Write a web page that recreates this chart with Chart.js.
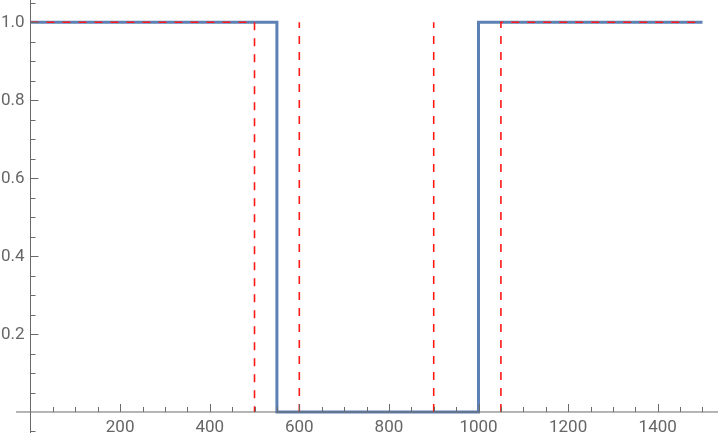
<!DOCTYPE html>
<html>
<head>
<meta charset="utf-8">
<script src="https://cdn.jsdelivr.net/npm/chart.js@4"></script>
<style>
  html, body { margin: 0; padding: 0; background: #ffffff; }
  #wrap { width: 720px; height: 442px; }
</style>
</head>
<body>
<div id="wrap"><canvas id="c" width="720" height="442"></canvas></div>
<script>
// ---- data ----
const stepX = [0, 550, 550, 1000, 1000, 1500];
const stepY = [1, 1, 0, 0, 1, 1];
// dashed reference outline (null = gap)
const refX = [0, 500, 500, 500, 600, 600, 600, 900, 900, 900, 1050, 1050, 1500];
const refY = [1, 1, 0, null, 0, 1, null, 0, 1, null, 0, 1, 1];
// ticks
const xMajorTicks = [200, 400, 600, 800, 1000, 1200, 1400];
const xMajorLabels = ["200", "400", "600", "800", "1000", "1200", "1400"];
const xMinorTicks = [50, 100, 150, 250, 300, 350, 450, 500, 550, 650, 700, 750, 850, 900, 950, 1050, 1100, 1150, 1250, 1300, 1350, 1450, 1500];
const yMajorTicks = [0.2, 0.4, 0.6, 0.8, 1.0];
const yMajorLabels = ["0.2", "0.4", "0.6", "0.8", "1.0"];
const yMinorTicks = [-0.05, 0.05, 0.1, 0.15, 0.25, 0.3, 0.35, 0.45, 0.5, 0.55, 0.65, 0.7, 0.75, 0.85, 0.9, 0.95, 1.05];

const axisColor = '#6a6a6a';
const labelColor = '#666666';

const axesPlugin = {
  id: 'mmaAxes',
  afterDatasetsDraw(chart) {
    const ctx = chart.ctx;
    const xs = chart.scales.x, ys = chart.scales.y;
    const area = chart.chartArea;
    const x0 = xs.getPixelForValue(0);
    const y0 = ys.getPixelForValue(0);
    ctx.save();
    ctx.strokeStyle = axisColor;
    ctx.lineWidth = 1;
    ctx.beginPath();
    ctx.moveTo(area.left, y0);
    ctx.lineTo(area.right, y0);
    ctx.moveTo(x0, area.top);
    ctx.lineTo(x0, area.bottom);
    xMajorTicks.forEach(v => { const p = Math.round(xs.getPixelForValue(v)) + 0.5; ctx.moveTo(p, y0); ctx.lineTo(p, y0 - 8); });
    xMinorTicks.forEach(v => { const p = Math.round(xs.getPixelForValue(v)) + 0.5; ctx.moveTo(p, y0); ctx.lineTo(p, y0 - 5); });
    yMajorTicks.forEach(v => { const p = Math.round(ys.getPixelForValue(v)) + 0.5; ctx.moveTo(x0, p); ctx.lineTo(x0 + 8, p); });
    yMinorTicks.forEach(v => { const p = Math.round(ys.getPixelForValue(v)) + 0.5; ctx.moveTo(x0, p); ctx.lineTo(x0 + 5, p); });
    ctx.stroke();
    ctx.fillStyle = labelColor;
    ctx.font = '17px Roboto';
    ctx.textAlign = 'center';
    ctx.textBaseline = 'middle';
    xMajorTicks.forEach((v, i) => ctx.fillText(xMajorLabels[i], xs.getPixelForValue(v), y0 + 16));
    ctx.textAlign = 'right';
    yMajorTicks.forEach((v, i) => ctx.fillText(yMajorLabels[i], x0 - 6, ys.getPixelForValue(v) + 0.5));
    ctx.restore();
  }
};

new Chart(document.getElementById('c'), {
  type: 'line',
  data: {
    datasets: [
      {
        label: 'step',
        data: stepX.map((x, i) => ({ x: x, y: stepY[i] })),
        borderColor: '#5E81B5',
        borderWidth: 3,
        pointRadius: 0,
        fill: false,
        tension: 0,
        order: 2
      },
      {
        label: 'ref',
        data: refX.map((x, i) => ({ x: x, y: refY[i] })),
        borderColor: '#ff1a1a',
        borderWidth: 1.6,
        borderDash: [8, 8],
        pointRadius: 0,
        fill: false,
        spanGaps: false,
        tension: 0,
        order: 1
      }
    ]
  },
  options: {
    responsive: false,
    animation: false,
    devicePixelRatio: 1,
    layout: { padding: { left: 16, right: 2, top: 0, bottom: 9 } },
    plugins: { legend: { display: false }, tooltip: { enabled: false } },
    scales: {
      x: { type: 'linear', min: -32.4, max: 1534.6, display: false },
      y: { type: 'linear', min: -0.0539, max: 1.0572, display: false }
    }
  },
  plugins: [axesPlugin]
});
</script>
</body>
</html>
